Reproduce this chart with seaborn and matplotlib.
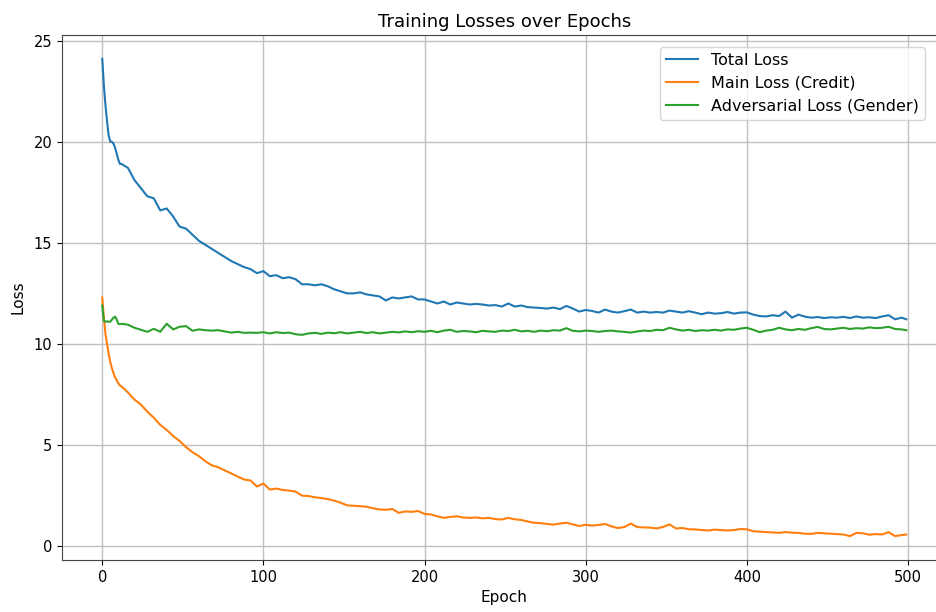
import matplotlib
matplotlib.use("Agg")
import matplotlib.pyplot as plt
import seaborn as sns
import pandas as pd

# Epochs at which losses were logged
epochs = list(range(12)) + list(range(12, 497, 4)) + [499]

total_loss = [
    24.1, 22.8, 21.8, 21.0, 20.3, 20.0, 20.0, 19.9, 19.7, 19.4, 19.1, 18.9,
    18.9, 18.7, 18.1, 17.7, 17.3, 17.2, 16.6, 16.7, 16.3, 15.8, 15.7, 15.4,
    15.1, 14.9, 14.7, 14.5, 14.3, 14.1, 13.95, 13.8, 13.7, 13.5, 13.6, 13.35,
    13.4, 13.25, 13.3, 13.2, 12.95, 12.95, 12.9, 12.95, 12.85, 12.7, 12.6, 12.5,
    12.5, 12.55, 12.45, 12.4, 12.35, 12.15, 12.3, 12.25, 12.3, 12.35, 12.2, 12.2,
    12.1, 12.0, 12.1, 11.95, 12.05, 12.0, 11.95, 11.98, 11.95, 11.9, 11.92, 11.85,
    12.0, 11.85, 11.9, 11.82, 11.8, 11.78, 11.75, 11.8, 11.72, 11.88, 11.75, 11.6,
    11.68, 11.63, 11.55, 11.7, 11.6, 11.55, 11.62, 11.7, 11.55, 11.6, 11.55, 11.58,
    11.55, 11.65, 11.6, 11.55, 11.62, 11.55, 11.47, 11.55, 11.5, 11.52, 11.58, 11.5,
    11.55, 11.56, 11.45, 11.38, 11.36, 11.42, 11.38, 11.6, 11.3, 11.45, 11.35, 11.3,
    11.33, 11.28, 11.32, 11.3, 11.34, 11.28, 11.36, 11.3, 11.32, 11.28, 11.36, 11.42,
    11.22, 11.3, 11.22,
]

main_loss = [
    12.3, 11.3, 10.5, 10.0, 9.5, 9.1, 8.8, 8.55, 8.35, 8.2, 8.05, 7.95,
    7.9, 7.6, 7.25, 7.0, 6.65, 6.35, 6.0, 5.75, 5.45, 5.2, 4.9, 4.65,
    4.45, 4.2, 4.0, 3.9, 3.75, 3.6, 3.45, 3.3, 3.25, 2.95, 3.1, 2.8,
    2.85, 2.78, 2.75, 2.7, 2.5, 2.48, 2.42, 2.38, 2.33, 2.25, 2.15, 2.02,
    2.0, 1.98, 1.95, 1.88, 1.82, 1.8, 1.84, 1.65, 1.72, 1.7, 1.74, 1.6,
    1.57, 1.48, 1.4, 1.45, 1.48, 1.42, 1.4, 1.42, 1.38, 1.4, 1.34, 1.32,
    1.4, 1.33, 1.3, 1.22, 1.16, 1.14, 1.1, 1.07, 1.12, 1.16, 1.08, 1.0,
    1.06, 1.02, 1.05, 1.1, 0.98, 0.9, 0.95, 1.12, 0.95, 0.93, 0.92, 0.88,
    0.95, 1.08, 0.88, 0.9, 0.84, 0.83, 0.8, 0.78, 0.82, 0.8, 0.78, 0.8,
    0.85, 0.84, 0.74, 0.72, 0.7, 0.68, 0.66, 0.7, 0.67, 0.66, 0.62, 0.61,
    0.66, 0.64, 0.62, 0.6, 0.58, 0.5, 0.66, 0.64, 0.57, 0.6, 0.58, 0.7,
    0.5, 0.55, 0.58,
]

adv_loss = [
    11.9, 11.15, 11.1, 11.12, 11.1, 11.1, 11.2, 11.3, 11.35, 11.2, 11.0, 10.97,
    11.0, 10.95, 10.8, 10.7, 10.6, 10.75, 10.6, 11.0, 10.72, 10.85, 10.88, 10.65,
    10.72, 10.68, 10.66, 10.68, 10.62, 10.56, 10.6, 10.55, 10.56, 10.55, 10.58, 10.52,
    10.58, 10.54, 10.56, 10.48, 10.45, 10.52, 10.55, 10.5, 10.56, 10.53, 10.58, 10.52,
    10.56, 10.6, 10.54, 10.58, 10.52, 10.56, 10.6, 10.57, 10.62, 10.58, 10.63, 10.6,
    10.65, 10.58, 10.66, 10.7, 10.6, 10.64, 10.62, 10.58, 10.65, 10.62, 10.6, 10.66,
    10.64, 10.7, 10.62, 10.65, 10.6, 10.66, 10.63, 10.68, 10.66, 10.78, 10.65, 10.62,
    10.66, 10.64, 10.6, 10.64, 10.66, 10.62, 10.6, 10.56, 10.62, 10.66, 10.64, 10.7,
    10.68, 10.8, 10.72, 10.66, 10.7, 10.64, 10.68, 10.66, 10.7, 10.66, 10.72, 10.7,
    10.76, 10.8, 10.7, 10.58, 10.66, 10.7, 10.8, 10.72, 10.68, 10.74, 10.7, 10.78,
    10.84, 10.74, 10.72, 10.76, 10.8, 10.74, 10.78, 10.76, 10.82, 10.78, 10.8, 10.85,
    10.74, 10.72, 10.68,
]

series_names = ["Total Loss", "Main Loss (Credit)", "Adversarial Loss (Gender)"]

frames = []
for name, vals in zip(series_names, [total_loss, main_loss, adv_loss]):
    assert len(vals) == len(epochs), (name, len(vals), len(epochs))
    frames.append(pd.DataFrame({"Epoch": epochs, "Loss": vals, "Series": name}))
df = pd.concat(frames, ignore_index=True)

fig = plt.figure(figsize=(9.37, 6.12), dpi=100)
# Axes run slightly past the right edge of the canvas
ax = fig.add_axes([0.0662, 0.085, 0.944, 0.858])

sns.lineplot(
    data=df, x="Epoch", y="Loss", hue="Series", hue_order=series_names,
    palette=["#1f77b4", "#ff7f0e", "#2ca02c"], linewidth=1.5, ax=ax,
)

ax.set_xticks([0, 100, 200, 300, 400, 500])
ax.set_yticks([0, 5, 10, 15, 20, 25])
ax.tick_params(labelsize=10.5)
ax.grid(True, color="#c0c0c0", linewidth=1.0)
ax.set_axisbelow(True)
for side in ("left", "bottom", "top"):
    ax.spines[side].set_color("#444444")
ax.set_title("Training Losses over Epochs", fontsize=13)
ax.set_xlabel("Epoch", fontsize=11)
ax.set_ylabel("Loss", fontsize=11, labelpad=6)
ax.legend(loc="upper right", bbox_to_anchor=(0.985, 0.993), title=None,
          fontsize=11.5)

fig.savefig("out.png", dpi=100)
